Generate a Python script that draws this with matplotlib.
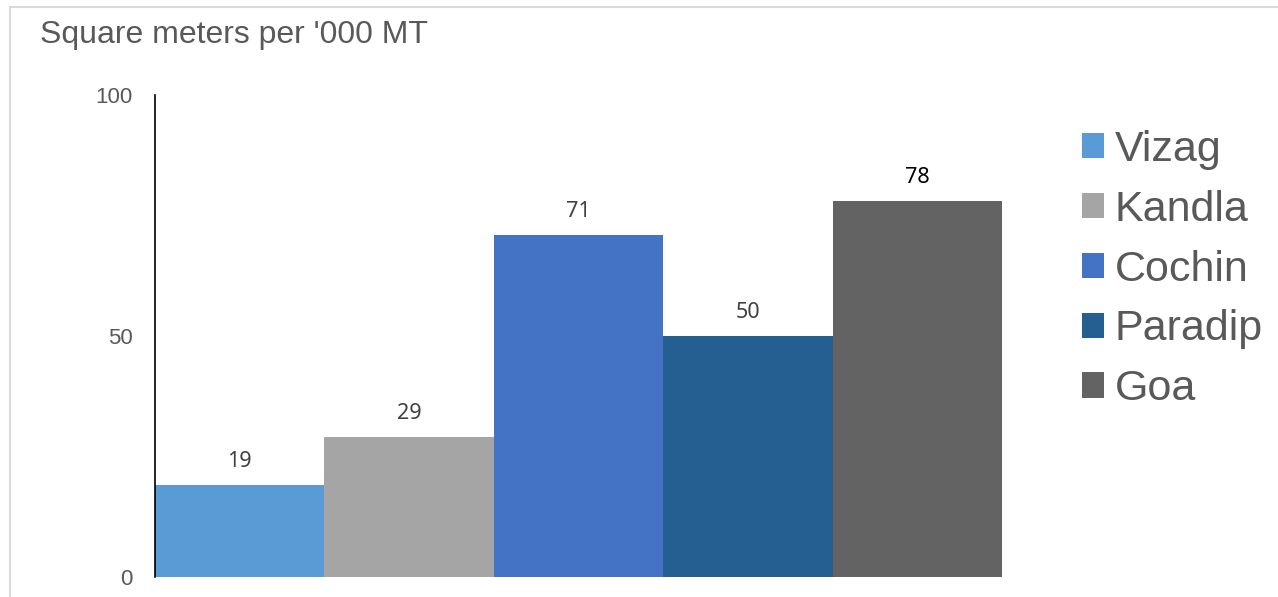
import matplotlib
matplotlib.use("Agg")
import matplotlib.pyplot as plt
from matplotlib.lines import Line2D

ports = ["Vizag", "Kandla", "Cochin", "Paradip", "Goa"]
values = [19, 29, 71, 50, 78]
colors = ["#5B9BD5", "#A5A5A5", "#4472C4", "#255E91", "#636363"]
label_colors = ["#404040", "#404040", "#404040", "#404040", "#000000"]
yticks = [0, 50, 100]
title = "Square meters per '000 MT"

W, H = 1278, 597
fig = plt.figure(figsize=(W / 100, H / 100), dpi=100)
fig.patch.set_facecolor("white")

ax = fig.add_axes([155 / W, (H - 577) / H, (1002 - 155) / W, (577 - 95) / H])
bars = ax.bar(range(len(ports)), values, width=1.0, color=colors, label=ports)
ax.set_xlim(-0.5, len(ports) - 0.5)
ax.set_ylim(0, 100)
ax.set_yticks(yticks)
ax.set_yticklabels([str(t) for t in yticks], fontsize=16, color="#595959",
                   fontfamily="Liberation Sans")
ax.tick_params(axis="y", length=0, pad=16)
ax.set_xticks([])
for side in ("top", "right", "bottom"):
    ax.spines[side].set_visible(False)
ax.spines["left"].set_color("black")
ax.spines["left"].set_linewidth(1.2)

for i, (v, c) in enumerate(zip(values, label_colors)):
    ax.annotate(str(v), xy=(i, v), xytext=(0, 17), textcoords="offset points",
                ha="center", va="center", fontsize=15.5, color=c,
                fontfamily="Noto Sans")

leg = ax.legend(handles=list(bars), labels=ports, loc="upper left",
                bbox_to_anchor=(1082 / W, 1 - 130 / H), bbox_transform=fig.transFigure,
                frameon=False, handlelength=0.52, handleheight=0.52,
                handletextpad=0.24, labelspacing=0.46, borderaxespad=0, borderpad=0,
                prop={"family": "Liberation Sans", "size": 31})
for t in leg.get_texts():
    t.set_color("#595959")

fig.text(40 / W, 1 - 35 / H, title, ha="left", va="center", fontsize=23,
         color="#595959", fontfamily="Liberation Sans")

# outer frame (top and left edges)
fig.add_artist(Line2D([10 / W, 1.0], [1 - 7 / H, 1 - 7 / H], transform=fig.transFigure,
                      color="#D9D9D9", linewidth=1.5))
fig.add_artist(Line2D([10 / W, 10 / W], [1 - 7 / H, 0.0], transform=fig.transFigure,
                      color="#D9D9D9", linewidth=1.5))

fig.savefig("out.png", dpi=100, facecolor="white")
